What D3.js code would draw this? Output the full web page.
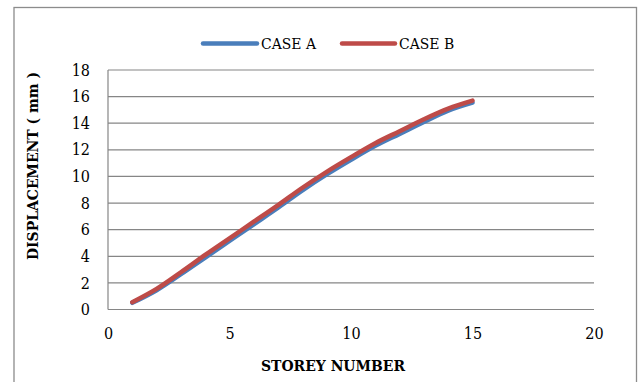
<!DOCTYPE html>
<html>
<head>
<meta charset="utf-8">
<script src="https://cdn.jsdelivr.net/npm/d3@7"></script>
<style>
  html, body { margin: 0; padding: 0; background: #fff; }
  svg { display: block; }
  text { font-family: "DejaVu Serif Condensed", "DejaVu Serif", serif; fill: #000; }
</style>
</head>
<body>
<svg id="chart" width="638" height="382"></svg>
<script>
// Storey-wise lateral displacement for the two building cases
const storeys = [1, 2, 3, 4, 5, 6, 7, 8, 9, 10, 11, 12, 13, 14, 15];
const caseA = [0.5, 1.45, 2.65, 3.9, 5.15, 6.4, 7.65, 8.95, 10.15, 11.25, 12.3, 13.2, 14.1, 14.95, 15.55];
const caseB = [0.55, 1.55, 2.8, 4.1, 5.35, 6.6, 7.85, 9.15, 10.35, 11.45, 12.5, 13.4, 14.3, 15.1, 15.7];
const xTicks = [0, 5, 10, 15, 20];
const yTicks = [0, 2, 4, 6, 8, 10, 12, 14, 16, 18];
const seriesNames = ["CASE A", "CASE B"];
const seriesColors = ["#4a7ebb", "#be4b48"];

const svg = d3.select("#chart");

// outer chart frame
svg.append("rect")
  .attr("x", 14).attr("y", 7.5)
  .attr("width", 622.5).attr("height", 390)
  .attr("fill", "#fff").attr("stroke", "#8c8c8c").attr("stroke-width", 1.3);

const x = d3.scaleLinear().domain([0, 20]).range([108, 594]);
const y = d3.scaleLinear().domain([0, 18]).range([309.5, 70]);

// horizontal gridlines
svg.append("g").selectAll("line").data(yTicks).join("line")
  .attr("x1", x(0)).attr("x2", x(20))
  .attr("y1", d => y(d)).attr("y2", d => y(d))
  .attr("stroke", "#868686").attr("stroke-width", 1.2);

// value axis line
svg.append("line")
  .attr("x1", x(0)).attr("x2", x(0))
  .attr("y1", y(0)).attr("y2", y(18))
  .attr("stroke", "#868686").attr("stroke-width", 1.2);

// y tick labels
const yAxis = d3.axisLeft(y).tickValues(yTicks).tickSize(0).tickPadding(18);
svg.append("g").attr("transform", `translate(${x(0)},0)`).call(yAxis)
  .call(g => g.select(".domain").remove())
  .call(g => g.selectAll("text").attr("font-size", 16).attr("font-family", null).attr("fill", "#000"));

// x tick labels
const xAxis = d3.axisBottom(x).tickValues(xTicks).tickSize(0).tickPadding(18);
svg.append("g").attr("transform", `translate(0,${y(0)})`).call(xAxis)
  .call(g => g.select(".domain").remove())
  .call(g => g.selectAll("text").attr("font-size", 16).attr("font-family", null).attr("fill", "#000"));

// smoothed displacement lines
const line = d3.line()
  .x((d, i) => x(storeys[i]))
  .y(d => y(d))
  .curve(d3.curveCatmullRom.alpha(0.5));

[caseA, caseB].forEach((vals, k) => {
  svg.append("path")
    .datum(vals)
    .attr("d", line)
    .attr("fill", "none")
    .attr("stroke", seriesColors[k])
    .attr("stroke-width", 4.5)
    .attr("stroke-linecap", "round")
    .attr("stroke-linejoin", "round");
});

// legend
const legendItems = [
  { x1: 203, x2: 257, tx: 261 },
  { x1: 342, x2: 395, tx: 399 }
];
legendItems.forEach((it, k) => {
  svg.append("line")
    .attr("x1", it.x1).attr("x2", it.x2)
    .attr("y1", 43.5).attr("y2", 43.5)
    .attr("stroke", seriesColors[k]).attr("stroke-width", 4.5)
    .attr("stroke-linecap", "round");
  svg.append("text")
    .attr("x", it.tx).attr("y", 43.5)
    .attr("dy", "0.35em")
    .attr("font-size", 15.5)
    .text(seriesNames[k]);
});

// axis titles
svg.append("text")
  .attr("x", 333).attr("y", 366)
  .attr("dy", "0.35em")
  .attr("text-anchor", "middle")
  .attr("font-size", 15.5).attr("font-weight", "bold")
  .text("STOREY NUMBER");

svg.append("text")
  .attr("transform", "translate(33,166) rotate(-90)")
  .attr("dy", "0.35em")
  .attr("text-anchor", "middle")
  .attr("font-size", 15.5).attr("font-weight", "bold")
  .text("DISPLACEMENT ( mm )");
</script>
</body>
</html>
